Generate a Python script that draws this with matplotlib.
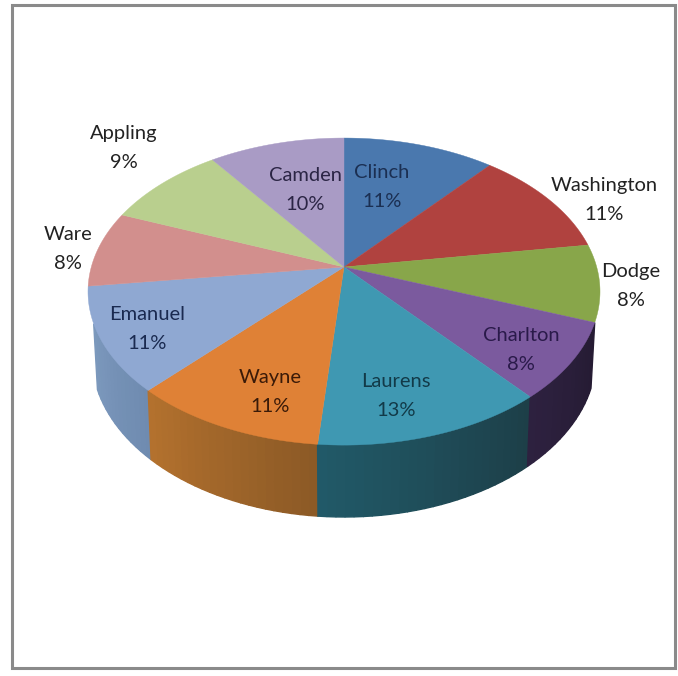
import numpy as np
import matplotlib
matplotlib.use("Agg")
import matplotlib.pyplot as plt
from matplotlib.colors import to_rgb
from matplotlib.patches import Rectangle

# slices, clockwise from 12 o'clock
names = ["Clinch", "Washington", "Dodge", "Charlton", "Laurens",
         "Wayne", "Emanuel", "Ware", "Appling", "Camden"]
values = [11.2, 11.4, 8.1, 8.1, 12.6, 10.6, 11.0, 8.0, 9.0, 10.0]

top_colors = ["#4a78ae", "#b0423f", "#88a64a", "#7b5a9e", "#3f98b2",
              "#df8136", "#8fa8d2", "#d28f8d", "#b9cf8e", "#a99bc5"]
# wall shade at the clockwise start and end of each slice
wall_start = ["#35557c", "#7d2f2d", "#5f7434", "#251b33", "#1d3f48",
              "#8c5a26", "#6f8bb0", "#83a0c4", "#8fa06c", "#7f7595"]
wall_end = ["#35557c", "#7d2f2d", "#47572a", "#2e2140", "#215a69",
            "#b5722e", "#83a0c4", "#b07a78", "#8fa06c", "#7f7595"]
text_colors = ["#1b2f52", "#222222", "#222222", "#2a1a4a", "#123a48",
               "#3a1a08", "#1a2a50", "#222222", "#222222", "#2b2545"]

# where each label sits, in picture pixels
label_x = [382, 604, 631, 521, 396, 270, 147, 68, 124, 305]
label_y = [187, 200, 286, 350, 396, 392, 329, 249, 148, 190]

# pie geometry in pixels
cx, cy = 344, 267
rx, ry, persp = 252.7, 149.6, 0.16


def project(ang):
    # ang in radians clockwise from top
    X, Y = np.sin(ang), np.cos(ang)
    d = 1 + persp * Y
    return cx + rx * X / d, cy - ry * Y / d


def base(x, y):
    # matching point on the lower rim
    return cx + (x - cx) * 0.985, cy + (y - cy) * 1.05 + 63


fig = plt.figure(figsize=(6.78, 6.76), dpi=100)
ax = fig.add_axes([0, 0, 1, 1])
ax.set_xlim(0, 678)
ax.set_ylim(676, 0)
ax.axis("off")

ax.add_patch(Rectangle((11.5, 4.5), 663, 663.5, fill=False, ec="#8a8a8a", lw=2.2))

edges = np.cumsum([0] + values) / sum(values) * 2 * np.pi

# side wall first, in short strips so the shading runs along each slice
for i in range(len(values)):
    a0, a1 = edges[i], edges[i + 1]
    n = max(int((a1 - a0) / 0.03), 2)
    ts = np.linspace(a0, a1, n + 1)
    c0, c1 = np.array(to_rgb(wall_start[i])), np.array(to_rgb(wall_end[i]))
    for j in range(n):
        # back of the pie and the far sides never show
        if np.cos((ts[j] + ts[j + 1]) / 2) > -0.345:
            continue
        x, y = project(np.array([ts[j], ts[j + 1]]))
        xb, yb = base(x, y)
        col = c0 + (c1 - c0) * j / n
        ax.fill([x[0], x[1], xb[1], xb[0]], [y[0], y[1], yb[1], yb[0]],
                color=col, lw=1.0, zorder=2 + j * 1e-4)

# top face
for i in range(len(values)):
    ts = np.linspace(edges[i], edges[i + 1], 60)
    x, y = project(ts)
    ax.fill(np.r_[cx, x], np.r_[cy, y], color=top_colors[i], lw=0.3, zorder=3)

for i in range(len(values)):
    ax.text(label_x[i], label_y[i], f"{names[i]}\n{round(values[i])}%",
            ha="center", va="center", fontsize=14.5, family="Lato",
            color=text_colors[i], linespacing=1.85, zorder=4)

fig.savefig("out.png", dpi=100)
